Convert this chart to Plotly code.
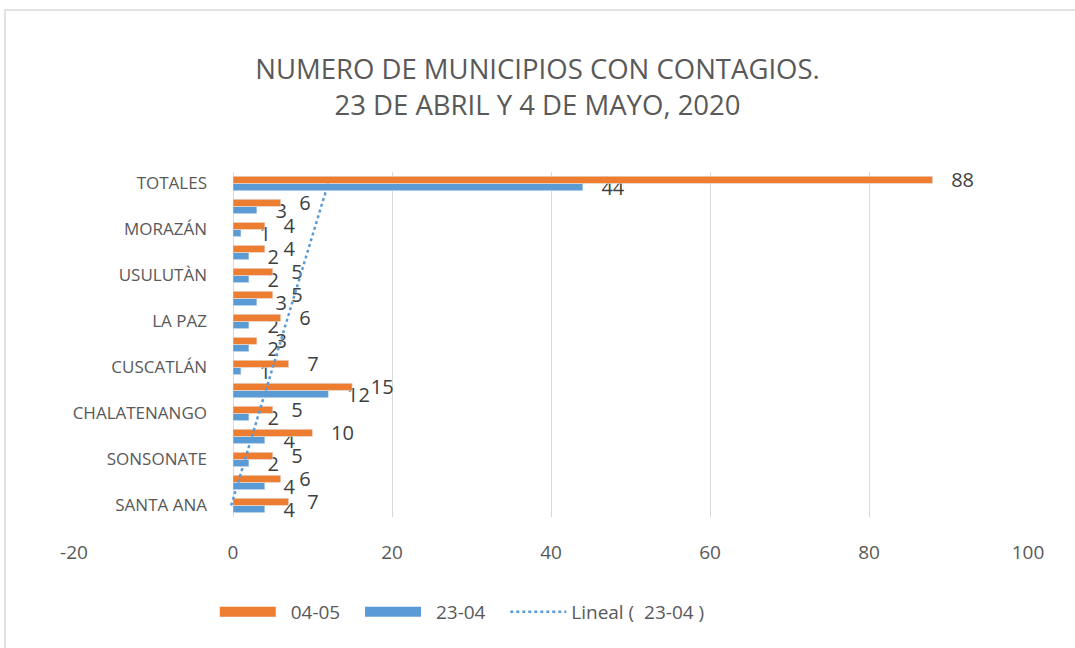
import numpy as np
import plotly.graph_objects as go

categories = ["SANTA ANA", "AHUACHAPÁN", "SONSONATE", "LA LIBERTAD", "CHALATENANGO",
              "SAN SALVADOR", "CUSCATLÁN", "CABAÑAS", "LA PAZ", "SAN VICENTE",
              "USULUTÀN", "SAN MIGUEL", "MORAZÁN", "LA UNIÓN", "TOTALES"]
may_04 = [7, 6, 5, 10, 5, 15, 7, 3, 6, 5, 5, 4, 4, 6, 88]
apr_23 = [4, 4, 2, 4, 2, 12, 1, 2, 2, 3, 2, 2, 1, 3, 44]
shown_ticks = categories[::2]
x_ticks = [-20, 0, 20, 40, 60, 80, 100]
x_tick_text = ["-20", "0", "20", "40", "60", "80", "100"]

ORANGE = "#ED7D31"
BLUE = "#5B9BD5"
TXT = "#595959"
FONT = "Open Sans"
PAD = "\u00a0\u00a0\u00a0"
LEAD = "\u00a0\u00a0"
GAP = "\u00a0" * 3

idx = np.arange(1, len(categories) + 1)
slope, intercept = np.polyfit(idx, np.array(apr_23, dtype=float), 1)
trend = slope * idx + intercept

fig = go.Figure()
fig.add_trace(go.Bar(
    y=categories, x=apr_23, orientation="h", name="23-04", showlegend=False,
    marker=dict(color=BLUE), texttemplate=PAD + "%{x}", textposition="outside",
    constraintext="none", cliponaxis=False,
    textfont=dict(size=20, color="#404040", family=FONT)))
fig.add_trace(go.Bar(
    y=categories, x=may_04, orientation="h", name="04-05", showlegend=False,
    marker=dict(color=ORANGE), texttemplate=PAD + "%{x}", textposition="outside",
    constraintext="none", cliponaxis=False,
    textfont=dict(size=20, color="#404040", family=FONT)))
fig.add_trace(go.Scatter(
    y=categories, x=trend, mode="lines", name="Lineal (  23-04 )", showlegend=False,
    line=dict(color=BLUE, width=2.5, dash="dot")))

# legend entries
fig.add_trace(go.Scatter(x=[None], y=[None], mode="lines", name=LEAD + "04-05" + GAP,
                         line=dict(color=ORANGE, width=11), legendrank=1))
fig.add_trace(go.Scatter(x=[None], y=[None], mode="lines", name=LEAD + "23-04" + GAP,
                         line=dict(color=BLUE, width=11), legendrank=2))
fig.add_trace(go.Scatter(x=[None], y=[None], mode="lines", name="Lineal (  23-04 )",
                         line=dict(color=BLUE, width=2.5, dash="dot"), legendrank=3))

fig.update_layout(
    width=1075, height=648,
    paper_bgcolor="white", plot_bgcolor="white",
    margin=dict(l=74, r=47, t=172, b=131),
    barmode="group", bargap=0.38, bargroupgap=0,
    title=dict(text="NUMERO DE MUNICIPIOS CON CONTAGIOS.<br>23 DE ABRIL Y 4 DE MAYO, 2020",
               x=0.5, xanchor="center", y=0.878, yanchor="middle",
               font=dict(size=27.5, color=TXT, family=FONT)),
    font=dict(family=FONT, color=TXT),
    legend=dict(orientation="h", x=0.407, xanchor="center", y=-0.275, yanchor="middle",
                font=dict(size=19, color=TXT, family=FONT),
                itemwidth=56, traceorder="normal"),
    showlegend=True,
)
fig.update_xaxes(range=[-20, 100], tickvals=x_ticks, ticktext=x_tick_text,
                 showgrid=True, gridcolor="#D9D9D9",
                 gridwidth=1, zeroline=False, showline=False, ticks="", automargin=False,
                 ticklabelstandoff=22,
                 tickfont=dict(size=19, color=TXT, family=FONT))
fig.update_yaxes(type="category", categoryorder="array", categoryarray=categories,
                 range=[-0.5, len(categories) - 0.5],
                 tickvals=shown_ticks, ticktext=shown_ticks, showgrid=False,
                 zeroline=False, showline=False, ticks="", anchor="free", automargin=False,
                 position=20 / 120, ticklabelstandoff=26,
                 tickfont=dict(size=17, color=TXT, family=FONT))
fig.add_shape(type="rect", xref="paper", yref="paper",
              x0=(5 - 74) / 954, x1=(1085 - 74) / 954,
              y0=(517 - 660) / 345, y1=(517 - 10) / 345,
              line=dict(color="#D9D9D9", width=1.5), fillcolor="rgba(0,0,0,0)", layer="below")

fig.write_html("out.html", config={"displayModeBar": False},
               post_script="document.body.style.margin='0';")
